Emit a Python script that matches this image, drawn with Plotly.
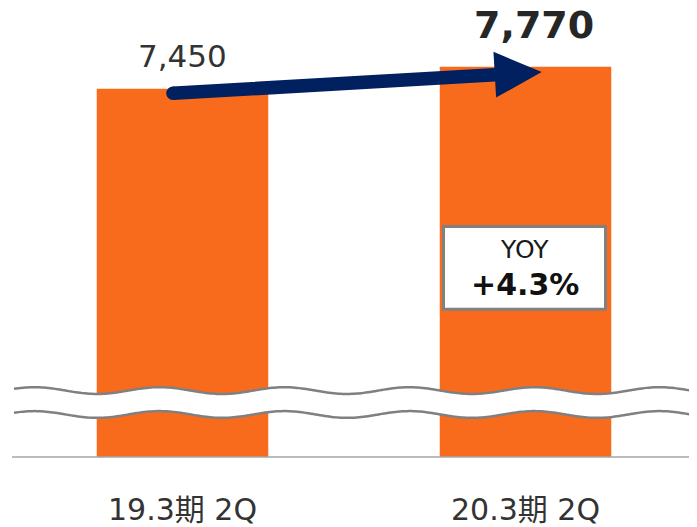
import numpy as np
import plotly.graph_objects as go

# ---- data ----
categories = ["19.3期 2Q", "20.3期 2Q"]
values = [7450, 7770]
value_labels = [f"{v:,}" for v in values]
yoy = (values[1] / values[0] - 1) * 100
yoy_label = f"+{yoy:.1f}%"

# ---- layout geometry ----
OFF = 8              # page body margin
W, H = 697 - OFF, 527 - OFF
MB = 68
PH = H - MB          # plot-area height in px
X_RANGE = [-174.5 / 343, 1.5]
Y_RANGE = [2068, 2068 + PH / 0.06875]

FONT = "DejaVu Sans, Noto Sans CJK JP, sans-serif"
ORANGE = "#F96B1C"
NAVY = "#002060"
GRAY = "#808080"


def px(xd):
    """data x -> screen px"""
    return (xd - X_RANGE[0]) / (X_RANGE[1] - X_RANGE[0]) * W + OFF


def py(yd):
    """data y -> screen px"""
    return PH - (yd - Y_RANGE[0]) / (Y_RANGE[1] - Y_RANGE[0]) * PH + OFF


def to_paper(x, y):
    return (x - OFF) / W, 1 - (y - OFF) / PH


def path_from(points, close=False):
    s = ""
    for i, (x, y) in enumerate(points):
        a, b = to_paper(x, y)
        s += ("M" if i == 0 else "L") + f"{a:.5f},{b:.5f} "
    if close:
        s += "Z"
    return s


fig = go.Figure()
fig.add_trace(go.Bar(
    x=[0, 1], y=values, width=0.5,
    marker=dict(color=ORANGE, line=dict(width=0)),
    hoverinfo="skip",
))

shapes = []

# baseline
bl0 = to_paper(12, 459)
shapes.append(dict(type="line", xref="paper", yref="paper",
                   x0=bl0[0], x1=1, y0=bl0[1], y1=bl0[1],
                   line=dict(color="#A6A6A6", width=1.5)))

# axis break: white band between two wavy lines
xs = np.linspace(14, 697, 300)
period, amp, trough_x = 125.0, 3.4, px(0) - 85.5
top_c, bot_c = 392.3, 416.3
wave_top = top_c + amp * np.cos(2 * np.pi * (xs - trough_x) / period)
wave_bot = bot_c + amp * np.cos(2 * np.pi * (xs - trough_x) / period)
band = list(zip(xs, wave_top)) + list(zip(xs[::-1], wave_bot[::-1]))
shapes.append(dict(type="path", xref="paper", yref="paper", layer="above",
                   path=path_from(band, close=True),
                   fillcolor="white", line=dict(width=0)))
for wv in (wave_top, wave_bot):
    shapes.append(dict(type="path", xref="paper", yref="paper", layer="above",
                       path=path_from(list(zip(xs, wv))),
                       line=dict(color=GRAY, width=2.5)))

# arrow from bar 1 to bar 2
S = np.array([px(0) - 9.5, py(values[0]) + 4.7])
T = np.array([px(1) + 16.2, py(values[1]) + 5.3])
d = (T - S) / np.linalg.norm(T - S)
n = np.array([-d[1], d[0]])
h, L, HW = 6.8, 47, 23
B = T - d * L
poly = [S + n * h, B + n * h, B + n * HW, T, B - n * HW, B - n * h, S - n * h]
shapes.append(dict(type="path", xref="paper", yref="paper", layer="above",
                   path=path_from(poly, close=True),
                   fillcolor=NAVY, line=dict(width=0)))
c0 = to_paper(S[0] - h, S[1] + h)
c1 = to_paper(S[0] + h, S[1] - h)
shapes.append(dict(type="circle", xref="paper", yref="paper", layer="above",
                   x0=c0[0], y0=c0[1], x1=c1[0], y1=c1[1],
                   fillcolor=NAVY, line=dict(width=0)))

# YOY box
bx = px(1) - 1
b0 = to_paper(bx - 81, 310.5)
b1 = to_paper(bx + 81, 227.5)
shapes.append(dict(type="rect", xref="paper", yref="paper", layer="above",
                   x0=b0[0], y0=b0[1], x1=b1[0], y1=b1[1],
                   fillcolor="white", line=dict(color=GRAY, width=3)))

ya = to_paper(bx, 251)
yb = to_paper(bx, 286)
annotations = [
    dict(x=0, y=values[0], xref="x", yref="y", text=value_labels[0],
         showarrow=False, xanchor="center", yanchor="middle", yshift=33,
         font=dict(family=FONT, size=31, color="#333333")),
    dict(x=1, y=values[1], xref="x", yref="y", text=f"<b>{value_labels[1]}</b>",
         showarrow=False, xanchor="center", yanchor="middle", yshift=42, xshift=8.5,
         font=dict(family=FONT, size=38, color="#262626")),
    dict(x=ya[0], y=ya[1], xref="paper", yref="paper", text="YOY",
         showarrow=False, xanchor="center", yanchor="middle",
         font=dict(family=FONT, size=25, color="#1a1a1a")),
    dict(x=yb[0], y=yb[1], xref="paper", yref="paper",
         text=f"<b>{yoy_label}</b>",
         showarrow=False, xanchor="center", yanchor="middle",
         font=dict(family=FONT, size=30, color="#111111")),
]

fig.update_layout(
    width=W, height=H,
    margin=dict(l=0, r=0, t=0, b=MB, pad=0),
    paper_bgcolor="white", plot_bgcolor="white",
    showlegend=False,
    shapes=shapes, annotations=annotations,
    xaxis=dict(range=X_RANGE, tickvals=[0, 1], ticktext=categories,
               ticks="outside", ticklen=26, tickcolor="rgba(0,0,0,0)",
               showgrid=False, zeroline=False, showline=False,
               tickfont=dict(family=FONT, size=30, color="#333333"),
               fixedrange=True),
    yaxis=dict(range=Y_RANGE, visible=False, showgrid=False,
               zeroline=False, fixedrange=True),
)

fig.write_html("out.html")
